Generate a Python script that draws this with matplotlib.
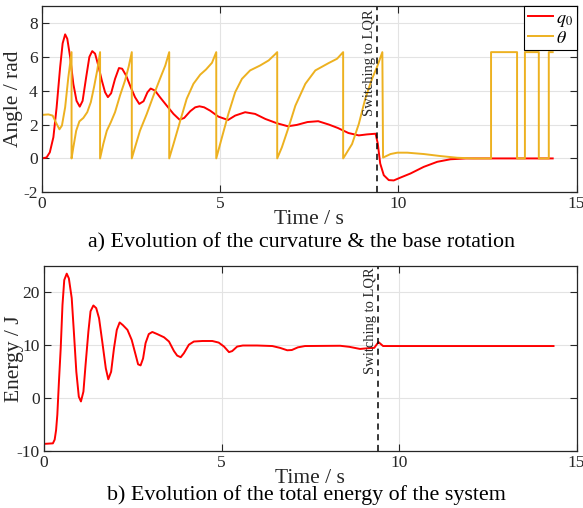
#!/usr/bin/env python3
"""
Plot curvature / base rotation and total energy of the system,
with the switch to the LQR controller marked.
"""

import matplotlib
matplotlib.use('Agg')
import matplotlib.pyplot as plt

# --- data ---
t_switch = 9.4

t_q0 = [0.0, 0.13, 0.22, 0.32, 0.41, 0.51, 0.58, 0.65, 0.71, 0.79, 0.88, 0.97,
        1.06, 1.14, 1.24, 1.33, 1.41, 1.49, 1.58, 1.68, 1.77, 1.85, 1.94, 2.05,
        2.16, 2.25, 2.36, 2.49, 2.61, 2.73, 2.85, 2.96, 3.05, 3.17, 3.31, 3.5,
        3.69, 3.86, 3.99, 4.16, 4.3, 4.42, 4.55, 4.72, 4.95, 5.22, 5.42, 5.7,
        5.98, 6.27, 6.59, 6.9, 7.15, 7.45, 7.75, 8.05, 8.3, 8.6, 8.89, 9.12,
        9.36, 9.42, 9.49, 9.59, 9.73, 9.87, 10.06, 10.34, 10.71, 11.09, 11.46,
        11.9, 14.33]
q0 = [0.0, 0.06, 0.36, 1.25, 3.0, 5.4, 6.8, 7.33, 7.07, 6.0, 4.4, 3.4,
      3.06, 3.4, 4.8, 6.0, 6.34, 6.19, 5.49, 4.6, 3.91, 3.62, 3.85, 4.7,
      5.34, 5.3, 4.9, 4.21, 3.62, 3.22, 3.38, 3.91, 4.13, 4.01, 3.62, 3.12,
      2.63, 2.29, 2.39, 2.79, 3.02, 3.08, 3.02, 2.82, 2.47, 2.27, 2.53, 2.73,
      2.63, 2.33, 2.08, 1.9, 1.98, 2.15, 2.2, 2.0, 1.8, 1.5, 1.36, 1.42,
      1.46, 0.9, -0.3, -0.99, -1.28, -1.3, -1.13, -0.89, -0.5, -0.2, -0.05,
      0.0, 0.0]

t_theta = [0.0, 0.18, 0.3, 0.39, 0.49, 0.56, 0.65, 0.74, 0.83,
           0.83, 0.88, 0.96, 1.05, 1.16, 1.27, 1.37, 1.46, 1.55, 1.63,
           1.63, 1.72, 1.82, 1.93, 2.05, 2.19, 2.33, 2.43, 2.52,
           2.52, 2.61, 2.75, 2.94, 3.13, 3.31, 3.46, 3.57,
           3.57, 3.69, 3.88, 4.06, 4.25, 4.44, 4.6, 4.77, 4.89,
           4.89, 5.05, 5.23, 5.42, 5.61, 5.84, 6.12, 6.36, 6.54, 6.6,
           6.6, 6.73, 6.92, 7.11, 7.39, 7.67, 8.04, 8.28, 8.45,
           8.45, 8.51, 8.7, 8.89, 9.07, 9.26, 9.4, 9.55,
           9.57, 9.78, 9.97, 10.25, 10.71, 11.18, 11.65, 12.1,
           12.6, 12.6, 13.33, 13.33, 13.55, 13.55, 13.94, 13.94,
           14.22, 14.22, 14.33]
theta = [2.57, 2.6, 2.53, 2.13, 1.72, 1.94, 3.02, 4.8, 6.28,
         0.0, 0.65, 1.64, 2.19, 2.39, 2.73, 3.32, 4.21, 5.2, 6.28,
         0.0, 0.85, 1.64, 2.13, 2.73, 3.72, 4.6, 5.4, 6.28,
         0.0, 0.65, 1.64, 2.63, 3.72, 4.7, 5.49, 6.28,
         0.0, 0.85, 2.23, 3.52, 4.41, 4.95, 5.25, 5.65, 6.28,
         0.0, 1.25, 2.63, 3.91, 4.7, 5.2, 5.49, 5.79, 6.15, 6.28,
         0.0, 0.65, 1.84, 3.12, 4.41, 5.2, 5.63, 5.89, 6.28,
         0.0, 0.2, 0.85, 2.04, 3.52, 4.7, 5.4, 6.28,
         0.05, 0.26, 0.34, 0.34, 0.26, 0.14, 0.04, 0.0,
         0.0, 6.28, 6.28, 0.0, 0.0, 6.28, 6.28, 0.0,
         0.0, 6.28, 6.28]

t_energy = [0.0, 0.25, 0.3, 0.34, 0.375, 0.42, 0.47, 0.52, 0.57, 0.64, 0.7,
            0.78, 0.84, 0.91, 0.98, 1.04, 1.11, 1.17, 1.25, 1.31, 1.39, 1.47,
            1.55, 1.64, 1.74, 1.81, 1.89, 1.97, 2.05, 2.13, 2.22, 2.35, 2.47,
            2.58, 2.65, 2.72, 2.79, 2.86, 2.95, 3.05, 3.19, 3.38, 3.52, 3.66,
            3.75, 3.85, 3.94, 4.08, 4.22, 4.46, 4.74, 4.92, 5.07, 5.21, 5.3,
            5.44, 5.6, 6.0, 6.43, 6.65, 6.85, 6.98, 7.15, 7.35, 8.34, 8.6,
            8.9, 9.15, 9.3, 9.42, 9.55, 14.35]
energy = [-8.6, -8.5, -7.8, -6.0, -3.1, 3.1, 9.4, 17.6, 22.3, 23.5, 22.6,
          18.9, 12.6, 5.0, 0.3, -0.6, 1.26, 6.3, 12.6, 16.4, 17.5, 17.0,
          15.1, 10.7, 5.66, 3.58, 5.0, 9.4, 12.9, 14.3, 13.8, 12.9, 11.0,
          8.2, 6.4, 6.2, 7.5, 10.4, 12.1, 12.5, 12.1, 11.5, 10.7, 8.9,
          8.05, 7.74, 8.5, 10.1, 10.7, 10.8, 10.8, 10.5, 9.75, 8.7, 8.9,
          9.75, 9.95, 9.95, 9.85, 9.5, 9.05, 9.1, 9.6, 9.85, 9.9, 9.7,
          9.3, 9.45, 9.5, 10.6, 9.85, 9.85]

x_ticks = [0, 5, 10, 15]
angle_ticks = [-2, 0, 2, 4, 6, 8]
energy_ticks = [-10, 0, 10, 20]

RED = '#FF0000'
ORANGE = '#EDB120'
AX_COL = '#262626'

plt.rcParams['font.family'] = 'serif'
plt.rcParams['font.serif'] = ['Liberation Serif', 'DejaVu Serif']
plt.rcParams['mathtext.fontset'] = 'stix'
plt.rcParams['axes.unicode_minus'] = False


def style_axes(ax, ylim, yticks):
    """MATLAB-like box axes with inward ticks on all sides"""
    ax.set_xlim(0, 15)
    ax.set_ylim(*ylim)
    ax.set_xticks(x_ticks)
    ax.set_yticks(yticks)
    ax.tick_params(direction='in', top=True, right=True, length=5,
                   width=0.8, colors=AX_COL, labelsize=12.5, pad=3)
    for sp in ax.spines.values():
        sp.set_color(AX_COL)
        sp.set_linewidth(0.9)
    ax.grid(True, color='#e3e3e3', linewidth=0.8)
    ax.set_axisbelow(True)
    ax.set_xlabel('Time / s', fontsize=15.5, color=AX_COL, labelpad=-2)


def mark_switch(ax, y_top):
    ax.axvline(t_switch, color='black', linestyle=(0, (4, 3)), linewidth=1.1)
    ax.text(t_switch - 0.03, y_top, 'Switching to LQR', rotation=90,
            ha='right', va='top', fontsize=10.5, color=AX_COL)


def main():
    fig = plt.figure(figsize=(5.83, 5.08), dpi=100)

    # top: curvature and base rotation
    ax1 = fig.add_axes([0.072, 0.6215, 0.917, 0.3665])
    ax1.plot(t_q0, q0, color=RED, linewidth=1.4, label=r'$q_0$')
    ax1.plot(t_theta, theta, color=ORANGE, linewidth=1.4, label=r'$\theta$')
    style_axes(ax1, (-2, 9), angle_ticks)
    ax1.set_ylabel('Angle / rad', fontsize=15.5, color=AX_COL)
    ax1.yaxis.set_label_coords(-0.035, 0.5)
    mark_switch(ax1, 8.8)
    leg = ax1.legend(loc='upper right', fontsize=13, borderaxespad=0,
                     fancybox=False, framealpha=1, edgecolor='black',
                     handlelength=1.4, handletextpad=0.15, borderpad=0.2,
                     labelspacing=0.05)
    leg.get_frame().set_linewidth(0.8)

    # bottom: total energy
    ax2 = fig.add_axes([0.0755, 0.1116, 0.9135, 0.3654])
    ax2.plot(t_energy, energy, color=RED, linewidth=1.4)
    style_axes(ax2, (-10, 25), energy_ticks)
    ax2.set_ylabel('Energy / J', fontsize=15.5, color=AX_COL)
    ax2.yaxis.set_label_coords(-0.038, 0.5)
    mark_switch(ax2, 24.7)

    fig.text(0.517, 1 - 243 / 508, 'a) Evolution of the curvature & the base rotation',
             ha='center', va='center', fontsize=15.8)
    fig.text(0.525, 1 - 495 / 508, 'b) Evolution of the total energy of the system',
             ha='center', va='center', fontsize=15.8)

    fig.savefig('out.png', dpi=100)


if __name__ == "__main__":
    main()
